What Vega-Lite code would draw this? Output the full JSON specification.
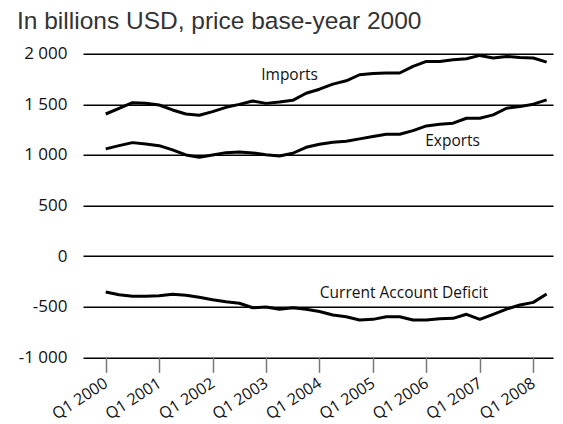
{
  "$schema": "https://vega.github.io/schema/vega-lite/v6.json",
  "width": 470,
  "height": 303.5,
  "autosize": {"type": "none"},
  "padding": {"left": 83, "top": 53.8, "right": 10, "bottom": 66.7},
  "background": "white",
  "config": {"view": {"stroke": null}},
  "title": {
    "text": "In billions USD, price base-year 2000",
    "anchor": "start",
    "frame": "group",
    "orient": "top",
    "offset": 10,
    "dx": -66,
    "font": "Liberation Sans",
    "fontSize": 24.5,
    "fontWeight": "normal",
    "color": "#333"
  },
  "datasets": {
    "series": [
      {"t": 2000.00, "s": "Imports", "v": 1405}, {"t": 2000.25, "s": "Imports", "v": 1461}, {"t": 2000.50, "s": "Imports", "v": 1517}, {"t": 2000.75, "s": "Imports", "v": 1511},
      {"t": 2001.00, "s": "Imports", "v": 1494}, {"t": 2001.25, "s": "Imports", "v": 1445}, {"t": 2001.50, "s": "Imports", "v": 1405}, {"t": 2001.75, "s": "Imports", "v": 1392},
      {"t": 2002.00, "s": "Imports", "v": 1428}, {"t": 2002.25, "s": "Imports", "v": 1471}, {"t": 2002.50, "s": "Imports", "v": 1500}, {"t": 2002.75, "s": "Imports", "v": 1533},
      {"t": 2003.00, "s": "Imports", "v": 1510}, {"t": 2003.25, "s": "Imports", "v": 1523}, {"t": 2003.50, "s": "Imports", "v": 1540}, {"t": 2003.75, "s": "Imports", "v": 1610},
      {"t": 2004.00, "s": "Imports", "v": 1650}, {"t": 2004.25, "s": "Imports", "v": 1700}, {"t": 2004.50, "s": "Imports", "v": 1733}, {"t": 2004.75, "s": "Imports", "v": 1793},
      {"t": 2005.00, "s": "Imports", "v": 1806}, {"t": 2005.25, "s": "Imports", "v": 1810}, {"t": 2005.50, "s": "Imports", "v": 1810}, {"t": 2005.75, "s": "Imports", "v": 1876},
      {"t": 2006.00, "s": "Imports", "v": 1925}, {"t": 2006.25, "s": "Imports", "v": 1925}, {"t": 2006.50, "s": "Imports", "v": 1941}, {"t": 2006.75, "s": "Imports", "v": 1951},
      {"t": 2007.00, "s": "Imports", "v": 1984}, {"t": 2007.25, "s": "Imports", "v": 1958}, {"t": 2007.50, "s": "Imports", "v": 1974}, {"t": 2007.75, "s": "Imports", "v": 1964},
      {"t": 2008.00, "s": "Imports", "v": 1958}, {"t": 2008.25, "s": "Imports", "v": 1918},
      {"t": 2000.00, "s": "Exports", "v": 1060}, {"t": 2000.25, "s": "Exports", "v": 1092}, {"t": 2000.50, "s": "Exports", "v": 1122}, {"t": 2000.75, "s": "Exports", "v": 1109},
      {"t": 2001.00, "s": "Exports", "v": 1092}, {"t": 2001.25, "s": "Exports", "v": 1050}, {"t": 2001.50, "s": "Exports", "v": 1000}, {"t": 2001.75, "s": "Exports", "v": 977},
      {"t": 2002.00, "s": "Exports", "v": 1000}, {"t": 2002.25, "s": "Exports", "v": 1023}, {"t": 2002.50, "s": "Exports", "v": 1030}, {"t": 2002.75, "s": "Exports", "v": 1020},
      {"t": 2003.00, "s": "Exports", "v": 1003}, {"t": 2003.25, "s": "Exports", "v": 990}, {"t": 2003.50, "s": "Exports", "v": 1017}, {"t": 2003.75, "s": "Exports", "v": 1076},
      {"t": 2004.00, "s": "Exports", "v": 1106}, {"t": 2004.25, "s": "Exports", "v": 1126}, {"t": 2004.50, "s": "Exports", "v": 1136}, {"t": 2004.75, "s": "Exports", "v": 1159},
      {"t": 2005.00, "s": "Exports", "v": 1182}, {"t": 2005.25, "s": "Exports", "v": 1205}, {"t": 2005.50, "s": "Exports", "v": 1205}, {"t": 2005.75, "s": "Exports", "v": 1241},
      {"t": 2006.00, "s": "Exports", "v": 1287}, {"t": 2006.25, "s": "Exports", "v": 1304}, {"t": 2006.50, "s": "Exports", "v": 1314}, {"t": 2006.75, "s": "Exports", "v": 1363},
      {"t": 2007.00, "s": "Exports", "v": 1363}, {"t": 2007.25, "s": "Exports", "v": 1396}, {"t": 2007.50, "s": "Exports", "v": 1462}, {"t": 2007.75, "s": "Exports", "v": 1478},
      {"t": 2008.00, "s": "Exports", "v": 1502}, {"t": 2008.25, "s": "Exports", "v": 1545},
      {"t": 2000.00, "s": "Current Account Deficit", "v": -355}, {"t": 2000.25, "s": "Current Account Deficit", "v": -381}, {"t": 2000.50, "s": "Current Account Deficit", "v": -397}, {"t": 2000.75, "s": "Current Account Deficit", "v": -397},
      {"t": 2001.00, "s": "Current Account Deficit", "v": -391}, {"t": 2001.25, "s": "Current Account Deficit", "v": -377}, {"t": 2001.50, "s": "Current Account Deficit", "v": -387}, {"t": 2001.75, "s": "Current Account Deficit", "v": -407},
      {"t": 2002.00, "s": "Current Account Deficit", "v": -431}, {"t": 2002.25, "s": "Current Account Deficit", "v": -451}, {"t": 2002.50, "s": "Current Account Deficit", "v": -466}, {"t": 2002.75, "s": "Current Account Deficit", "v": -510},
      {"t": 2003.00, "s": "Current Account Deficit", "v": -503}, {"t": 2003.25, "s": "Current Account Deficit", "v": -526}, {"t": 2003.50, "s": "Current Account Deficit", "v": -510}, {"t": 2003.75, "s": "Current Account Deficit", "v": -526},
      {"t": 2004.00, "s": "Current Account Deficit", "v": -548}, {"t": 2004.25, "s": "Current Account Deficit", "v": -582}, {"t": 2004.50, "s": "Current Account Deficit", "v": -599}, {"t": 2004.75, "s": "Current Account Deficit", "v": -631},
      {"t": 2005.00, "s": "Current Account Deficit", "v": -625}, {"t": 2005.25, "s": "Current Account Deficit", "v": -599}, {"t": 2005.50, "s": "Current Account Deficit", "v": -599}, {"t": 2005.75, "s": "Current Account Deficit", "v": -631},
      {"t": 2006.00, "s": "Current Account Deficit", "v": -631}, {"t": 2006.25, "s": "Current Account Deficit", "v": -618}, {"t": 2006.50, "s": "Current Account Deficit", "v": -615}, {"t": 2006.75, "s": "Current Account Deficit", "v": -575},
      {"t": 2007.00, "s": "Current Account Deficit", "v": -625}, {"t": 2007.25, "s": "Current Account Deficit", "v": -575}, {"t": 2007.50, "s": "Current Account Deficit", "v": -523}, {"t": 2007.75, "s": "Current Account Deficit", "v": -483},
      {"t": 2008.00, "s": "Current Account Deficit", "v": -457}, {"t": 2008.25, "s": "Current Account Deficit", "v": -375}
    ],
    "labels": [
      {"label": "Imports", "t": 2003.44, "v": 1741},
      {"label": "Exports", "t": 2006.49, "v": 1092},
      {"label": "Current Account Deficit", "t": 2005.58, "v": -417}
    ]
  },
  "encoding": {
    "x": {
      "field": "t",
      "type": "quantitative",
      "scale": {"domain": [1999.575, 2008.369], "nice": false, "zero": false},
      "axis": {
        "title": null,
        "values": [2000, 2001, 2002, 2003, 2004, 2005, 2006, 2007, 2008],
        "labelExpr": "'Q1 ' + datum.value",
        "grid": false,
        "domain": false,
        "ticks": true,
        "tickSize": 15,
        "tickColor": "#777",
        "tickWidth": 1.5,
        "labelAngle": -33,
        "labelAlign": "right",
        "labelBaseline": "middle",
        "labelPadding": 9,
        "labelFont": "Open Sans",
        "labelFontSize": 16,
        "labelColor": "#111",
        "labelOverlap": false,
        "labelFlush": false
      }
    },
    "y": {
      "field": "v",
      "type": "quantitative",
      "scale": {"domain": [-1000, 2000], "nice": false, "zero": false},
      "axis": {
        "title": null,
        "values": [-1000, -500, 0, 500, 1000, 1500, 2000],
        "labelExpr": "(datum.value < 0 ? '-' : '') + replace(format(abs(datum.value), ','), ',', ' ')",
        "grid": true,
        "gridColor": "#000",
        "gridWidth": 1.5,
        "gridOpacity": 1,
        "domain": false,
        "ticks": false,
        "labelPadding": 16,
        "labelFont": "Open Sans",
        "labelFontSize": 17,
        "labelColor": "#111",
        "labelOverlap": false,
        "labelFlush": false
      }
    }
  },
  "layer": [
    {
      "data": {"name": "series"},
      "mark": {"type": "line", "color": "#000", "strokeJoin": "round", "strokeCap": "butt"},
      "encoding": {
        "detail": {"field": "s", "type": "nominal"},
        "strokeWidth": {
          "field": "s",
          "type": "nominal",
          "scale": {"domain": ["Imports", "Exports", "Current Account Deficit"], "range": [3, 3, 5.5]},
          "legend": null
        }
      }
    },
    {
      "data": {"name": "labels"},
      "mark": {"type": "text", "font": "Open Sans", "fontSize": 15.5, "align": "center", "baseline": "alphabetic", "color": "#111"},
      "encoding": {
        "text": {"field": "label", "type": "nominal"}
      }
    }
  ]
}
